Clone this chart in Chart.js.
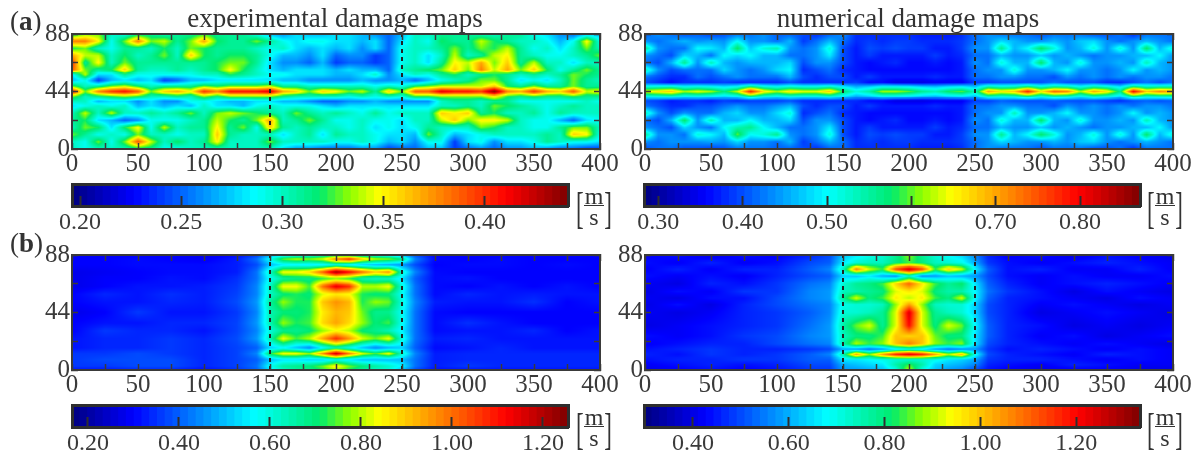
<!DOCTYPE html>
<html>
<head>
<meta charset="utf-8">
<script src="https://cdn.jsdelivr.net/npm/chart.js@4/dist/chart.umd.min.js"></script>
<style>
  html, body { margin: 0; background: #fff; }
  #page { position: relative; width: 1197px; height: 455px; overflow: hidden; font-family: "Liberation Serif", serif; color: #333; }
  #page canvas { position: absolute; }
  .txt { position: absolute; white-space: nowrap; line-height: 1; }
  .title { font-size: 27px; transform: translateX(-50%); }
  .tag { font-size: 27px; }
  .unit { position: absolute; width: 36px; height: 42px; }
  .unit span { position: absolute; line-height: 1; }
  .unit .br { font-size: 23px; top: 0; transform: scale(1, 1.9); transform-origin: top; }
  .unit .m, .unit .s { left: 0; width: 36px; text-align: center; font-size: 24px; }
  .unit .bar { position: absolute; left: 8px; width: 20px; top: 18px; height: 1px; background: #333; }
</style>
</head>
<body>
<div id="page"></div>
<script>
// grid nodes, x in mm, y in mm (rows listed from the top edge down)
const xFine = [0,10,20,30,40,50,60,70,80,90,100,110,120,130,140,150,160,170,180,190,200,210,220,230,240,250,260,270,280,290,300,310,320,330,340,350,360,370,380,390,400];
const xCentre = [0,25,50,75,100,125,140,150,160,170,180,190,200,210,220,230,240,250,260,275,300,325,350,375,400];
const yExpA = [88,82.5,77,71.5,66,60.5,57,52.5,48,44,40,36.5,33,27.5,22,16.5,11,5.5,0];
const yNumA = [88,82.5,77,71.5,66,60.5,55,51,47.5,44,40.5,37,33,27.5,22,16.5,11,5.5,0];
const yExpB = [88,85,80.5,75,70,64,58,52,44,36,30,24,17,12.5,8,3,0];
const yNumB = [88,82,77,72,66,60,55,50,44,34,26,20,16,12,8,4,0];

// velocities in cm/s
const expA = [
[31,33,33,30,29,31,31,30,31,31, 32,31,31,31,29,27,26,28,27,27, 28,28,27,26,25,27,30,30,31,31, 31,30,30,31,31,29,28,26,25,27, 27],
[38,38,35,29,33,38,33,34,31,33, 37,32,31,31,33,31,29,28,29,29, 28,28,27,28,25,28,30,29,32,31, 31,34,32,31,30,30,29,27,29,35, 29],
[32,33,30,29,31,31,30,32,30,33, 32,31,31,31,30,29,30,28,27,28, 27,28,26,28,25,29,30,30,31,33, 31,33,32,34,31,29,30,28,30,33, 30],
[37,34,34,30,32,30,31,33,30,36, 32,31,32,32,31,29,27,27,26,28, 25,26,26,24,25,29,30,28,30,34, 30,31,34,35,31,30,29,29,30,31, 33],
[40,31,35,30,33,31,31,31,31,31, 31,32,33,33,31,28,26,26,25,27, 24,25,25,24,25,29,30,28,31,35, 34,37,33,36,31,34,30,30,28,30, 30],
[39,33,31,32,36,31,30,30,31,30, 31,32,35,32,30,28,27,28,28,28, 27,28,27,27,25,30,31,32,33,36, 33,38,34,37,33,36,32,29,31,33, 31],
[28,34,28,28,31,29,29,29,29,29, 30,30,32,31,30,29,29,28,28,28, 27,27,28,30,26,28,30,29,31,32, 30,31,32,31,30,31,30,31,33,32, 31],
[27,29,24,27,28,27,28,24,25,27, 27,28,28,28,28,28,27,27,26,26, 26,26,27,26,26,27,25,27,29,30, 31,33,33,31,28,29,28,30,33,31, 30],
[33,30,31,33,34,32,30,31,31,31, 33,32,33,33,33,34,31,31,30,30, 30,30,30,29,30,29,32,33,34,34, 34,34,36,32,31,33,31,31,33,31, 31],
[41,33,38,40,41,39,33,36,37,35, 40,38,41,41,41,42,37,36,33,36, 35,33,34,31,36,33,39,39,42,41, 41,40,44,38,37,40,37,36,39,34, 35],
[33,30,31,32,33,32,30,30,31,30, 33,31,33,33,33,33,31,30,30,30, 30,29,30,29,30,29,32,32,33,33, 33,33,35,32,31,32,31,31,32,31, 31],
[30,30,27,28,28,26,28,26,26,29, 29,28,27,27,28,28,27,27,26,25, 25,26,26,27,26,26,26,26,30,31, 31,30,31,31,29,29,29,29,29,30, 29],
[28,29,30,29,30,27,28,27,28,27, 30,28,28,27,29,30,29,29,29,28, 27,28,28,28,28,28,28,28,30,30, 31,30,33,32,31,30,29,30,31,30, 30],
[30,34,30,34,30,30,31,30,31,33, 30,33,34,33,32,31,30,33,31,30, 31,30,29,31,29,30,30,30,36,35, 36,31,32,30,30,31,29,31,30,30, 30],
[31,32,28,27,25,26,29,29,29,30, 31,34,32,31,33,37,30,31,33,31, 29,29,30,29,29,28,30,30,34,36, 33,35,35,34,30,29,29,27,25,28, 29],
[30,33,32,28,32,35,29,34,30,31, 31,35,31,33,29,36,31,30,31,30, 30,29,30,28,29,28,29,31,30,30, 30,33,32,30,30,29,29,31,33,33, 30],
[33,31,29,30,29,33,30,30,29,30, 30,36,31,30,30,30,28,30,31,28, 31,30,30,29,28,28,27,33,30,27, 28,29,30,30,30,30,31,30,36,35, 29],
[30,29,33,29,33,39,34,30,32,30, 31,35,30,30,30,33,30,30,30,30, 29,29,30,29,27,28,26,29,29,24, 28,29,26,28,28,29,31,30,29,29, 28],
[30,29,30,30,30,31,31,29,29,30, 30,30,30,30,30,30,28,26,26,25, 25,25,26,26,24,25,25,27,27,24, 25,26,25,26,26,27,26,25,25,24, 24]
];
const numA = [
[41,44,42,40,41,39,40,42,42,44, 41,41,40,38,41,44,38,38,38,38, 38,37,37,37,38,42,44,42,42,42, 40,42,42,42,40,40,42,38,42,42, 42],
[44,42,44,46,44,45,44,50,44,44, 42,46,39,42,46,42,38,39,38,39, 39,38,38,38,39,42,44,48,46,44, 44,46,44,47,48,44,42,44,46,44, 42],
[56,44,42,42,50,49,46,58,47,52, 54,44,42,44,52,40,37,40,39,40, 39,39,37,37,39,44,44,56,46,50, 58,52,44,46,52,44,52,44,58,46, 52],
[44,42,40,48,46,42,50,48,50,46, 46,42,42,44,49,40,37,39,37,37, 37,37,39,37,38,42,42,46,44,44, 47,44,46,44,42,44,44,46,46,50, 44],
[42,40,46,56,44,54,46,44,46,46, 46,48,40,44,44,40,37,36,37,38, 36,36,37,36,37,44,42,52,46,46, 58,46,44,52,44,44,46,44,54,46, 44],
[54,44,40,42,42,42,48,44,42,44, 48,50,38,40,42,38,37,36,36,36, 36,36,36,36,37,42,44,44,52,44, 44,46,50,44,44,42,44,50,44,46, 44],
[42,40,38,38,42,40,42,44,42,42, 42,46,40,38,40,40,37,39,37,37, 37,37,38,37,37,42,42,44,44,42, 42,40,44,42,44,42,44,42,44,44, 42],
[40,38,36,38,38,38,39,38,38,38, 38,40,38,38,38,38,39,36,36,34, 34,34,35,35,35,39,39,40,40,40, 40,42,40,40,40,38,38,40,42,40, 42],
[52,53,54,51,52,51,49,51,58,53, 51,53,52,52,54,50,46,48,51,51, 50,48,47,49,50,47,55,53,54,58, 53,56,55,51,55,53,49,58,54,55, 55],
[64,66,68,62,64,62,57,63,78,66, 62,66,64,64,68,58,52,55,62,62, 60,56,54,58,60,54,70,66,68,78, 66,74,72,62,70,66,56,80,68,72, 70],
[52,53,54,51,52,51,49,51,58,53, 51,53,52,52,54,50,46,48,51,51, 50,48,47,49,50,47,55,53,54,58, 53,56,55,51,55,53,49,58,54,55, 55],
[40,39,37,38,38,37,39,38,39,39, 39,40,38,38,38,38,38,36,36,34, 34,34,35,35,35,39,39,41,40,40, 40,41,40,40,40,39,38,40,41,40, 41],
[42,40,38,38,40,40,42,44,42,42, 44,46,40,38,40,40,37,39,37,37, 37,37,38,37,37,42,42,44,44,42, 42,40,44,42,44,42,44,42,44,44, 42],
[54,44,40,44,42,42,46,48,44,44, 48,52,38,40,42,38,37,36,36,36, 36,36,36,36,37,42,44,44,54,44, 44,46,50,44,44,42,44,50,44,46, 44],
[42,40,46,58,44,54,46,46,50,46, 46,48,40,44,44,40,37,36,37,38, 36,36,37,36,37,44,42,52,46,46, 58,46,44,52,44,44,46,44,54,46, 44],
[44,42,40,48,44,42,50,54,56,50, 46,42,42,44,49,40,37,39,37,37, 37,37,39,37,38,42,42,46,44,44, 47,44,46,44,42,44,44,46,46,50, 44],
[56,44,44,42,52,50,46,60,50,52, 56,44,42,44,52,40,37,40,39,40, 39,39,37,37,39,44,44,56,46,50, 58,52,44,46,52,44,52,44,58,46, 52],
[44,42,44,44,44,45,44,48,44,44, 42,46,39,42,46,42,38,39,38,39, 39,38,38,38,39,42,44,48,46,44, 44,46,44,47,48,44,42,44,46,44, 42],
[40,42,42,40,40,39,40,42,42,42, 41,41,40,38,41,42,38,38,38,38, 38,37,37,37,38,42,44,42,42,42, 40,42,42,42,40,40,42,38,42,42, 42]
];
const expB = [
[30,29,30,30,28,31,36, 48,52,56,58,62,66,62,60,58,54,46, 38,30,30,30,30,30,30],
[30,30,31,30,29,33,42, 58,76,80,78,82,98,108,90,80,78,70, 44,31,30,31,30,30,30],
[30,30,31,31,31,33,38, 50,55,56,55,56,60,56,52,50,48,46, 38,30,31,31,30,31,30],
[28,29,30,31,31,33,42, 62,84,84,88,102,122,112,100,90,96,62, 44,31,30,30,30,30,30],
[28,30,30,32,31,35,42, 58,66,68,68,72,76,72,64,62,62,54, 40,31,32,30,30,30,30],
[28,30,32,32,33,36,44, 62,84,84,74,100,115,108,80,80,84,60, 42,31,30,32,30,32,30],
[30,34,32,35,33,37,44, 62,70,72,70,82,86,84,72,70,70,58, 42,31,34,32,33,32,32],
[30,32,32,34,33,38,46, 66,78,72,72,90,96,92,72,78,76,60, 44,33,32,32,35,30,32],
[28,30,36,32,32,36,44, 64,70,70,72,86,92,90,76,68,68,58, 42,31,30,30,30,30,30],
[30,32,32,34,34,37,46, 64,78,72,74,88,94,88,78,70,74,58, 42,31,35,32,30,30,30],
[30,36,34,34,32,37,44, 60,68,68,70,78,84,80,70,68,64,56, 42,31,32,32,34,30,32],
[32,34,34,36,34,38,46, 64,84,74,80,94,108,96,82,76,84,60, 42,33,34,32,32,32,32],
[32,34,34,36,34,37,40, 52,56,50,44,56,64,58,50,44,48,52, 40,31,32,34,32,32,32],
[36,36,38,36,34,37,44, 72,84,84,78,96,118,98,82,74,84,62, 44,33,34,34,34,34,34],
[36,38,38,38,34,37,40, 50,54,54,52,52,58,54,50,50,50,50, 42,33,34,34,34,34,34],
[36,36,38,38,34,37,42, 58,66,68,70,76,86,76,70,66,62,56, 42,33,36,34,34,34,34],
[32,32,34,34,31,35,40, 54,62,66,68,72,80,72,66,62,60,50, 38,31,32,32,32,32,32]
];
const numB = [
[42,44,40,44,42,46,50, 62,66,70,72,78,88,78,72,68,64,56, 46,42,44,40,44,42,40],
[44,42,46,42,44,50,52, 66,72,74,74,80,84,80,74,72,70,60, 48,44,42,44,46,44,42],
[42,46,42,46,46,52,56, 74,108,92,84,114,126,114,84,100,92,68, 52,44,46,42,42,46,42],
[44,42,44,42,46,50,52, 64,62,66,60,56,72,56,58,62,60,58, 50,44,42,44,42,42,44],
[42,40,46,44,48,54,56, 72,78,80,84,98,110,96,84,78,82,66, 52,46,42,44,46,44,42],
[40,44,42,48,48,56,58, 74,76,78,80,92,96,92,80,76,76,68, 54,48,44,40,44,42,40],
[42,40,44,44,50,56,58, 78,92,80,84,96,90,96,84,80,92,68, 52,46,44,42,40,44,42],
[40,44,40,46,50,54,56, 70,72,72,74,88,104,88,74,72,72,64, 50,46,42,44,42,40,42],
[42,40,42,46,48,52,56, 72,72,74,78,92,124,92,78,74,72,64, 50,46,40,42,44,42,40],
[40,42,44,46,48,54,58, 76,86,92,78,92,120,92,80,92,86,68, 52,46,44,40,42,40,42],
[44,42,44,48,50,56,58, 74,80,80,84,100,98,100,86,80,80,66, 52,46,42,44,40,42,44],
[42,44,46,46,50,54,56, 76,90,84,88,100,108,100,88,84,88,66, 50,46,44,42,44,42,40],
[44,46,48,46,46,48,50, 60,58,54,58,66,70,66,58,54,56,58, 48,44,46,44,42,44,42],
[46,44,48,46,48,52,56, 76,104,88,104,118,124,118,104,90,102,70, 50,46,44,42,46,44,42],
[44,46,46,48,48,52,52, 66,66,68,70,72,72,72,70,66,64,60, 48,46,46,44,42,44,42],
[42,44,46,44,46,50,50, 60,62,64,66,76,84,76,64,62,60,56, 46,44,42,46,44,42,42],
[40,42,44,42,44,48,48, 58,58,60,62,70,92,70,62,58,56,50, 44,42,40,42,42,40,40]
];

// colorbar limits and tick labels, m/s
const rangeExpA = [0.196, 0.441], ticksExpA = [0.20, 0.25, 0.30, 0.35, 0.40];
const rangeNumA = [0.283, 0.871], ticksNumA = [0.30, 0.40, 0.50, 0.60, 0.70, 0.80];
const rangeExpB = [0.165, 1.255], ticksExpB = [0.20, 0.40, 0.60, 0.80, 1.00, 1.20];
const rangeNumB = [0.298, 1.333], ticksNumB = [0.40, 0.60, 0.80, 1.00, 1.20];

const xTicks = [0, 400, 25];
const yTicks = [0, 88, 22];
const damageEdges = [150, 250];

const INK = '#3a3a3a';
const FONT = { family: '"Liberation Serif", serif', size: 25, lineHeight: 1 };
const BAR_FONT = { family: '"Liberation Serif", serif', size: 24, lineHeight: 1 };
const jetStops = [[0,0,0,127],[.125,0,0,255],[.37,0,255,255],[.5,0,235,110],[.56,140,255,0],[.62,255,255,0],[.875,255,0,0],[1,127,0,0]];

function jet(t) {
  t = Math.min(1, Math.max(0, t));
  let i = 0;
  while (i < jetStops.length - 2 && t > jetStops[i + 1][0]) i++;
  const a = jetStops[i], b = jetStops[i + 1], f = (t - a[0]) / (b[0] - a[0]);
  return [a[1] + (b[1] - a[1]) * f, a[2] + (b[2] - a[2]) * f, a[3] + (b[3] - a[3]) * f];
}

function bracket(nodes, v) {
  const asc = nodes[0] < nodes[nodes.length - 1];
  let i = 0;
  while (i < nodes.length - 2 && (asc ? v > nodes[i + 1] : v < nodes[i + 1])) i++;
  const f = (v - nodes[i]) / (nodes[i + 1] - nodes[i]);
  return [i, Math.min(1, Math.max(0, f))];
}

function addCanvas(left, top, w, h) {
  const c = document.createElement('canvas');
  c.width = w; c.height = h;
  c.style.left = left + 'px'; c.style.top = top + 'px';
  c.style.width = w + 'px'; c.style.height = h + 'px';
  document.getElementById('page').appendChild(c);
  return c;
}

// fixed axis size, and no extra room for the end labels so the plot box stays put
function fixed(size) {
  return function (scale) {
    if (scale.isHorizontal()) scale.height = size; else scale.width = size;
    scale.paddingTop = scale.paddingBottom = scale.paddingLeft = scale.paddingRight = 0;
  };
}

// each grid node is one scatter point; its marker is a tile shaded from the surrounding nodes
function tileFor(panel) {
  return function (context) {
    // chart.js resolves this once before the first layout, scales are not ready then
    if (!context.raw || !context.chart.chartArea) return 'rect';
    const xs = context.chart.scales.x, ys = context.chart.scales.y;
    const { col, row, x, y } = context.raw;
    const gap = (nodes, i, scale) => {
      const a = scale.getPixelForValue(nodes[Math.max(0, i - 1)]);
      const b = scale.getPixelForValue(nodes[Math.min(nodes.length - 1, i + 1)]);
      return Math.abs(b - a);
    };
    const w = Math.ceil(gap(panel.xNodes, col, xs)) + 4, h = Math.ceil(gap(panel.yNodes, row, ys)) + 4;
    const tile = document.createElement('canvas');
    tile.width = w; tile.height = h;
    const g = tile.getContext('2d'), img = g.createImageData(w, h);
    const px0 = xs.getPixelForValue(x) - w / 2, py0 = ys.getPixelForValue(y) - h / 2;
    const span = panel.range[1] - panel.range[0];
    let k = 0;
    for (let j = 0; j < h; j++) {
      const [r, fy] = bracket(panel.yNodes, ys.getValueForPixel(py0 + j + .5));
      for (let i = 0; i < w; i++) {
        const [c, fx] = bracket(panel.xNodes, xs.getValueForPixel(px0 + i + .5));
        const top = panel.rows[r][c] * (1 - fx) + panel.rows[r][c + 1] * fx;
        const bot = panel.rows[r + 1][c] * (1 - fx) + panel.rows[r + 1][c + 1] * fx;
        const v = (top * (1 - fy) + bot * fy) / 100;
        const rgb = jet((v - panel.range[0]) / span);
        img.data[k++] = rgb[0]; img.data[k++] = rgb[1]; img.data[k++] = rgb[2]; img.data[k++] = 255;
      }
    }
    g.putImageData(img, 0, 0);
    return tile;
  };
}

function drawMap(panel) {
  const PAD = { l: 50, r: 30, t: 15, b: 36 };
  const canvas = addCanvas(panel.left - PAD.l, panel.top - PAD.t, panel.width + PAD.l + PAD.r, panel.height + PAD.t + PAD.b);
  const cells = [];
  panel.yNodes.forEach((y, row) => panel.xNodes.forEach((x, col) => cells.push({ x, y, col, row })));
  const edgeSets = damageEdges.map(x => ({
    type: 'scatter', data: [{ x, y: 0 }, { x, y: 88 }], showLine: true,
    borderColor: '#222', borderWidth: 2, borderDash: [4, 4], pointRadius: 0, clip: 0
  }));
  const gridOf = () => ({ drawOnChartArea: false, tickLength: -6, tickWidth: 1.5, tickColor: INK, z: 2 });
  const border = { display: true, color: INK, width: 2, z: 2 };
  new Chart(canvas, {
    type: 'scatter',
    data: { datasets: edgeSets.concat([{ data: cells, pointStyle: tileFor(panel), pointRadius: 1, clip: 0 }]) },
    options: {
      responsive: false, animation: false, events: [],
      layout: { padding: { top: PAD.t } },
      plugins: { legend: { display: false }, tooltip: { enabled: false } },
      scales: {
        x: { min: xTicks[0], max: xTicks[1], afterFit: fixed(PAD.b), grid: gridOf(), border,
             ticks: { stepSize: xTicks[2], autoSkip: false, maxRotation: 0, padding: 9, color: INK, font: FONT,
                      callback: v => v % 50 === 0 ? v : '' } },
        y: { min: yTicks[0], max: yTicks[1], afterFit: fixed(PAD.l), grid: gridOf(), border,
             ticks: { stepSize: yTicks[2], autoSkip: false, padding: 8, color: INK, font: FONT,
                      callback: v => v % 44 === 0 ? v : '' } },
        x2: { position: 'top', min: xTicks[0], max: xTicks[1], afterFit: fixed(0), grid: gridOf(), border,
              ticks: { stepSize: xTicks[2], display: false } },
        y2: { position: 'right', min: yTicks[0], max: yTicks[1], afterFit: fixed(PAD.r), grid: gridOf(), border,
              ticks: { stepSize: yTicks[2], display: false } }
      }
    }
  });
}

function drawBar(bar) {
  const PAD = { l: 30, r: 30, t: 4, b: 34 };
  const canvas = addCanvas(bar.left - PAD.l, bar.top - PAD.t, bar.width + PAD.l + PAD.r, bar.height + PAD.t + PAD.b);
  const span = bar.range[1] - bar.range[0], levels = 64, sets = [];
  for (let i = 0; i < levels; i++) {
    const c = jet((i + .5) / levels).map(Math.round);
    sets.push({ data: [[bar.range[0] + span * i / levels, bar.range[1]]], backgroundColor: `rgb(${c})`,
                borderWidth: 0, barPercentage: 1, categoryPercentage: 1, grouped: false, order: levels - i });
  }
  const border = { display: true, color: '#2e2e2e', width: 3, z: 2 };
  new Chart(canvas, {
    type: 'bar',
    data: { labels: [''], datasets: sets },
    options: {
      indexAxis: 'y', responsive: false, animation: false, events: [],
      layout: { padding: { top: PAD.t } },
      plugins: { legend: { display: false }, tooltip: { enabled: false } },
      scales: {
        x: { min: bar.range[0], max: bar.range[1], afterFit: fixed(PAD.b), border,
             afterBuildTicks: s => { s.ticks = bar.ticks.map(value => ({ value })); },
             grid: { drawOnChartArea: false, tickLength: -10, tickWidth: 2, tickColor: '#2e2e2e', z: 2 },
             ticks: { autoSkip: false, maxRotation: 0, padding: 15, color: INK, font: BAR_FONT, callback: v => v.toFixed(2) } },
        y: { afterFit: fixed(PAD.l), border, grid: { display: false }, ticks: { display: false } },
        x2: { position: 'top', min: 0, max: 1, afterFit: fixed(0), border, grid: { display: false }, ticks: { display: false } },
        y2: { position: 'right', min: 0, max: 1, afterFit: fixed(PAD.r), border, grid: { display: false }, ticks: { display: false } }
      }
    }
  });
}

function addText(cls, html, left, top) {
  const d = document.createElement('div');
  d.className = 'txt ' + cls;
  d.innerHTML = html;
  d.style.left = left + 'px'; d.style.top = top + 'px';
  document.getElementById('page').appendChild(d);
}

function addUnit(left, top) {
  const u = document.createElement('div');
  u.className = 'unit';
  u.style.left = left + 'px'; u.style.top = top + 'px';
  u.innerHTML = '<span class="br" style="left:0">[</span><span class="br" style="right:0">]</span>' +
    '<span class="m" style="top:-3px">m</span><div class="bar"></div><span class="s" style="top:18px">s</span>';
  document.getElementById('page').appendChild(u);
}

drawMap({ left: 72, top: 34, width: 528, height: 115, xNodes: xFine, yNodes: yExpA, rows: expA, range: rangeExpA });
drawMap({ left: 645, top: 34, width: 528, height: 115, xNodes: xFine, yNodes: yNumA, rows: numA, range: rangeNumA });
drawMap({ left: 72, top: 255, width: 528, height: 115, xNodes: xCentre, yNodes: yExpB, rows: expB, range: rangeExpB });
drawMap({ left: 645, top: 255, width: 528, height: 115, xNodes: xCentre, yNodes: yNumB, rows: numB, range: rangeNumB });

drawBar({ left: 72, top: 184, width: 496, height: 22, range: rangeExpA, ticks: ticksExpA });
drawBar({ left: 644, top: 184, width: 496, height: 22, range: rangeNumA, ticks: ticksNumA });
drawBar({ left: 72, top: 405, width: 496, height: 22, range: rangeExpB, ticks: ticksExpB });
drawBar({ left: 644, top: 405, width: 496, height: 22, range: rangeNumB, ticks: ticksNumB });

addText('title', 'experimental damage maps', 335, 5);
addText('title', 'numerical damage maps', 908, 5);
addText('tag', '(<b>a</b>)', 10, 8);
addText('tag', '(<b>b</b>)', 10, 230);
addUnit(576, 187);
addUnit(1147, 187);
addUnit(576, 408);
addUnit(1147, 408);
</script>
</body>
</html>
